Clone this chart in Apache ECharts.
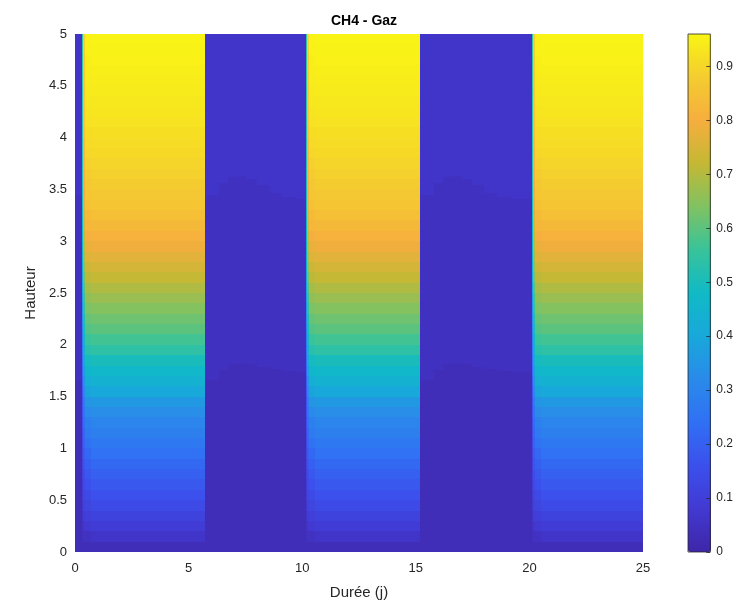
<!DOCTYPE html>
<html>
<head>
<meta charset="utf-8">
<script src="https://cdn.jsdelivr.net/npm/echarts@6/dist/echarts.min.js"></script>
<style>
  html, body { margin: 0; padding: 0; background: #fff; }
  #chart { width: 736px; height: 605px; }
</style>
</head>
<body>
<div id="chart"></div>
<script>
// --- data ---
// phases (days)
const gasSpans = [[0.3, 5.72], [10.17, 15.18], [20.11, 25]];
const lowSpans = [[0, 0.3], [5.72, 10.17], [15.18, 20.11]];

// row edges in height (0 .. 5)
const heightEdges = [0, 0.1, 0.2, 0.3, 0.4, 0.5, 0.6, 0.7, 0.8, 0.9,
  1.0, 1.1, 1.2, 1.3, 1.4, 1.5, 1.6, 1.7, 1.8, 1.9,
  2.0, 2.1, 2.2, 2.3, 2.4, 2.5, 2.6, 2.7, 2.8, 2.9,
  3.0, 3.1, 3.2, 3.3, 3.4, 3.5, 3.6, 3.7, 3.8, 3.9,
  4.0, 4.1, 4.2, 4.3, 4.4, 4.5, 4.6, 4.7, 4.8, 4.9, 5.0];

// gas phase: column edges in days after gas start, one profile per column
const gasColEdges = [0, 0.06, 0.15, 0.4];
const gasFront1 = [0.03, 0.04, 0.05, 0.06, 0.07, 0.08, 0.09, 0.10, 0.11, 0.12,
  0.13, 0.14, 0.15, 0.16, 0.17, 0.19, 0.21, 0.23, 0.25, 0.27,
  0.29, 0.31, 0.33, 0.35, 0.37, 0.39, 0.41, 0.43, 0.45, 0.46,
  0.47, 0.48, 0.49, 0.50, 0.50, 0.51, 0.51, 0.52, 0.52, 0.53,
  0.53, 0.53, 0.54, 0.54, 0.54, 0.55, 0.55, 0.55, 0.55, 0.55];
const gasFront2 = [0.03, 0.05, 0.07, 0.09, 0.11, 0.12, 0.14, 0.15, 0.17, 0.19,
  0.21, 0.22, 0.24, 0.26, 0.28, 0.31, 0.34, 0.37, 0.40, 0.43,
  0.46, 0.49, 0.51, 0.54, 0.56, 0.59, 0.62, 0.65, 0.68, 0.70,
  0.72, 0.74, 0.76, 0.78, 0.79, 0.80, 0.81, 0.82, 0.83, 0.84,
  0.85, 0.86, 0.86, 0.87, 0.87, 0.88, 0.88, 0.88, 0.89, 0.89];
const gasEarly = [0.03, 0.05, 0.08, 0.10, 0.12, 0.14, 0.16, 0.18, 0.20, 0.22,
  0.25, 0.27, 0.29, 0.32, 0.35, 0.39, 0.43, 0.46, 0.49, 0.53,
  0.56, 0.59, 0.61, 0.635, 0.66, 0.685, 0.71, 0.735, 0.76, 0.78,
  0.80, 0.82, 0.835, 0.85, 0.86, 0.87, 0.88, 0.89, 0.90, 0.907,
  0.913, 0.92, 0.926, 0.932, 0.937, 0.941, 0.945, 0.949, 0.952, 0.955];
const gasMain = [0.03, 0.06, 0.09, 0.115, 0.14, 0.16, 0.18, 0.20, 0.22, 0.245,
  0.265, 0.285, 0.305, 0.33, 0.36, 0.40, 0.44, 0.47, 0.50, 0.54,
  0.57, 0.60, 0.62, 0.645, 0.67, 0.695, 0.72, 0.745, 0.77, 0.79,
  0.81, 0.83, 0.845, 0.86, 0.87, 0.88, 0.89, 0.897, 0.905, 0.912,
  0.918, 0.924, 0.93, 0.935, 0.94, 0.944, 0.948, 0.952, 0.955, 0.958];
const gasProfiles = [gasFront1, gasFront2, gasEarly, gasMain];

// low phase: columns in days after gas stops, with the two faint contour heights
const lowColEdges = [0, 0.6, 1.0, 1.4, 1.8, 2.3, 2.8, 3.4, 4.0, 5.0];
const lowUpperEdge = [3.45, 3.56, 3.62, 3.63, 3.6, 3.54, 3.47, 3.43, 3.41];
const lowLowerEdge = [1.66, 1.76, 1.81, 1.82, 1.81, 1.79, 1.77, 1.75, 1.74];
const lowBandValues = [0.033, 0.046, 0.062]; // bottom, middle, top

// colour bar
const cbarMax = 0.96;
const cbarTicks = [0, 0.1, 0.2, 0.3, 0.4, 0.5, 0.6, 0.7, 0.8, 0.9];
const parula = ['#3E26A8', '#4239D2', '#3B50EC', '#3070F4', '#2A8AEA', '#18A8DA', '#10BAC6',
  '#38C39A', '#80C262', '#C4B834', '#F6AE3E', '#F4CC30', '#F9F514'];

// --- build cells [t0, t1, h0, h1, value] ---
const cells = [];
gasSpans.forEach(function (span) {
  for (let c = 0; c < gasColEdges.length; c++) {
    const t0 = span[0] + gasColEdges[c];
    const t1 = c + 1 < gasColEdges.length ? span[0] + gasColEdges[c + 1] : span[1];
    if (t0 >= span[1]) break;
    const prof = gasProfiles[c];
    for (let r = 0; r < prof.length; r++) {
      cells.push([t0, Math.min(t1, span[1]), heightEdges[r], heightEdges[r + 1], prof[r]]);
    }
  }
});
lowSpans.forEach(function (span) {
  for (let c = 0; c < lowUpperEdge.length; c++) {
    const t0 = span[0] + lowColEdges[c];
    if (t0 >= span[1]) break;
    const t1 = Math.min(span[0] + lowColEdges[c + 1], span[1]);
    cells.push([t0, t1, 0, lowLowerEdge[c], lowBandValues[0]]);
    cells.push([t0, t1, lowLowerEdge[c], lowUpperEdge[c], lowBandValues[1]]);
    cells.push([t0, t1, lowUpperEdge[c], 5, lowBandValues[2]]);
  }
});

const textColor = '#262626';
const font = 'Liberation Sans, Arial, Helvetica, sans-serif';

const chart = echarts.init(document.getElementById('chart'), null, { renderer: 'canvas' });
chart.setOption({
  animation: false,
  backgroundColor: '#fff',
  textStyle: { fontFamily: font },
  title: {
    text: 'CH4 - Gaz',
    left: 359,
    textAlign: 'center',
    top: 9,
    textStyle: { fontSize: 14, fontWeight: 'bold', color: '#000', fontFamily: font }
  },
  grid: [
    { left: 75, top: 34, width: 568, height: 518, containLabel: false },
    { left: 688, top: 34, width: 23, height: 518, show: true, z: 6,
      borderColor: textColor, borderWidth: 0.8, backgroundColor: 'transparent' }
  ],
  xAxis: [
    {
      type: 'value', gridIndex: 0, min: 0, max: 25, interval: 5,
      name: 'Durée (j)', nameLocation: 'middle', nameGap: 33,
      nameTextStyle: { fontSize: 15, color: textColor },
      axisLine: { show: false }, axisTick: { show: false }, splitLine: { show: false },
      axisLabel: { fontSize: 13, color: textColor, margin: 10 }
    },
    { type: 'value', gridIndex: 1, min: 0, max: 1, show: false }
  ],
  yAxis: [
    {
      type: 'value', gridIndex: 0, min: 0, max: 5, interval: 0.5,
      name: 'Hauteur', nameLocation: 'middle', nameGap: 31, nameRotate: 90,
      nameTextStyle: { fontSize: 15, color: textColor },
      axisLine: { show: false }, axisTick: { show: false }, splitLine: { show: false },
      axisLabel: { fontSize: 13, color: textColor, margin: 8 }
    },
    {
      type: 'value', gridIndex: 1, min: 0, max: cbarMax, interval: 0.1, position: 'right', z: 10,
      axisLine: { show: false, onZero: false }, splitLine: { show: false },
      axisTick: { show: true, inside: true, length: 4, lineStyle: { color: textColor, width: 0.8 } },
      axisLabel: {
        fontSize: 12, color: textColor, margin: 6, showMaxLabel: false,
        formatter: function (v) {
          const hit = cbarTicks.find(function (t) { return Math.abs(t - v) < 1e-6; });
          return hit === undefined ? '' : String(hit);
        }
      }
    }
  ],
  visualMap: {
    type: 'continuous',
    min: 0, max: cbarMax,
    dimension: 4,
    seriesIndex: 0,
    calculable: false,
    hoverLink: false,
    left: 688, top: 34,
    itemWidth: 23, itemHeight: 518,
    padding: 0,
    inRange: { color: parula }
  },
  series: [{
    type: 'custom',
    xAxisIndex: 0, yAxisIndex: 0,
    clip: true,
    encode: { x: [0, 1], y: [2, 3] },
    data: cells,
    renderItem: function (params, api) {
      const a = api.coord([api.value(0), api.value(3)]);
      const b = api.coord([api.value(1), api.value(2)]);
      // snap to whole pixels so neighbouring cells meet without seams
      const x0 = Math.round(a[0]), x1 = Math.round(b[0]);
      const y0 = Math.round(a[1]), y1 = Math.round(b[1]);
      return {
        type: 'rect',
        shape: { x: x0, y: y0, width: Math.max(x1 - x0, 1), height: y1 - y0 },
        style: { fill: api.visual('color') }
      };
    }
  }]
});
</script>
</body>
</html>
